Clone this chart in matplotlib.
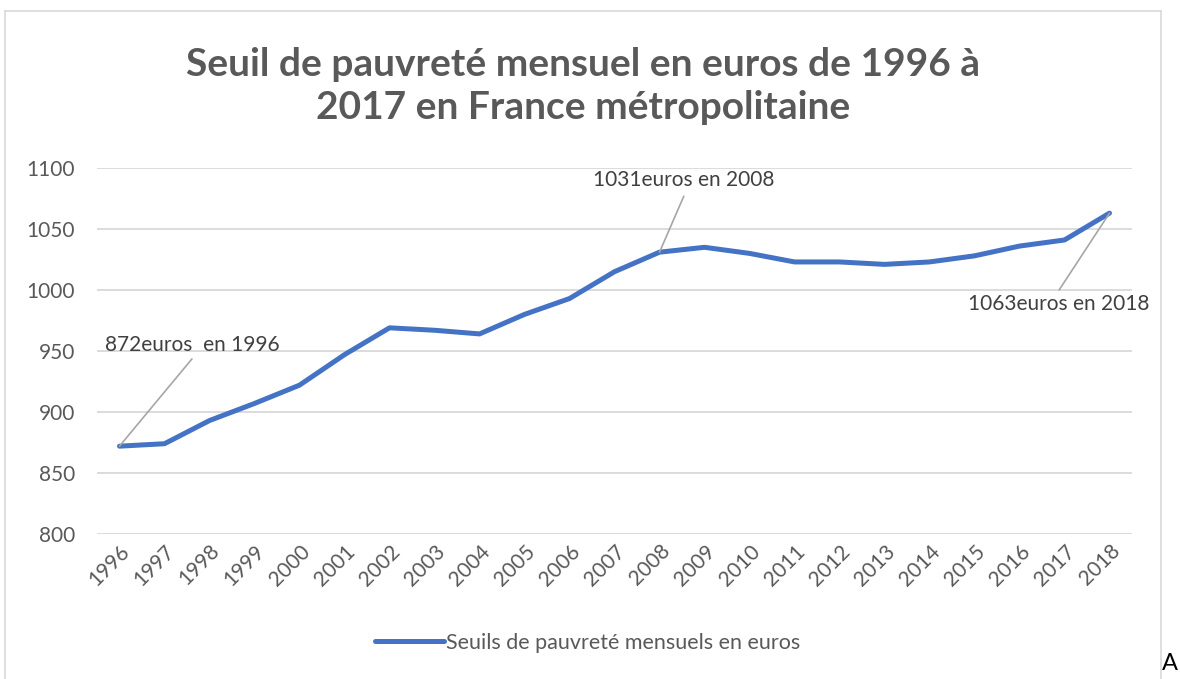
import numpy as np
import matplotlib.pyplot as plt
from matplotlib.lines import Line2D

plt.rcParams['font.family'] = ['Lato', 'DejaVu Sans']

# data
years = [str(y) for y in range(1996, 2019)]
seuils = [872, 874, 893, 907, 922, 947, 969, 967, 964, 980, 993, 1015, 1031,
          1035, 1030, 1023, 1023, 1021, 1023, 1028, 1036, 1041, 1063]
yticks = [800, 850, 900, 950, 1000, 1050, 1100]

titre = "Seuil de pauvreté mensuel en euros de 1996 à\n2017 en France métropolitaine"
serie = "Seuils de pauvreté mensuels en euros"

grey = '#595959'
fig = plt.figure(figsize=(11.8, 6.79), dpi=100)

# chart area border (left, top, right)
for xs, ys in [([5, 5], [679, 11]), ([5, 1161], [11, 11]), ([1161, 1161], [11, 679])]:
    fig.add_artist(Line2D([x / 1180 for x in xs], [1 - y / 679 for y in ys],
                          color='#D9D9D9', lw=1.2))

ax = fig.add_axes([97 / 1180, 1 - 534 / 679, 1035 / 1180, 366 / 679])
x = np.arange(len(years))
line, = ax.plot(x, seuils, color='#4472C4', lw=3.6, solid_capstyle='round',
                solid_joinstyle='round', zorder=3)

ax.set_xlim(-0.5, len(years) - 0.5)
ax.set_ylim(800, 1100)
ax.set_yticks(yticks)
ax.yaxis.grid(True, color='#D9D9D9', lw=1.3)
ax.set_axisbelow(True)
for s in ax.spines.values():
    s.set_visible(False)
ax.tick_params(length=0, colors=grey, labelsize=15)
ax.tick_params(axis='y', pad=16)
ax.set_xticks(x)
ax.set_xticklabels(years, rotation=45, ha='right', rotation_mode='anchor')
ax.tick_params(axis='x', pad=5)

# annotations: (point index, text, text position, attach point on text box)
notes = [(0, "872euros  en 1996", (1.61, 955), (0.5, -0.2)),
         (12, "1031euros en 2008", (12.54, 1090), (0.5, -0.3)),
         (22, "1063euros en 2018", (20.88, 988.5), (0.5, 1.2))]
for i, txt, pos, rp in notes:
    ax.annotate(txt, xy=(x[i], seuils[i]), xytext=pos, ha='center', va='center',
                fontsize=15, color='#404040',
                arrowprops=dict(arrowstyle='-', color='#A6A6A6', lw=1.2,
                                shrinkA=0, shrinkB=0, relpos=rp),
                annotation_clip=False)

fig.text(583 / 1180, 1 - 86 / 679, titre, ha='center', va='center',
         fontsize=28, fontweight='bold', color=grey, linespacing=1.3)

fig.legend([line], [serie], loc='center', bbox_to_anchor=(588 / 1180, 1 - 643 / 679),
           frameon=False, fontsize=15.5, labelcolor=grey, handlelength=3.2,
           handletextpad=0.1)

fig.text(1170 / 1180, 1 - 664 / 679, "A", ha='center', va='center',
         fontsize=17, color='black')

fig.savefig('out.png', dpi=100)
